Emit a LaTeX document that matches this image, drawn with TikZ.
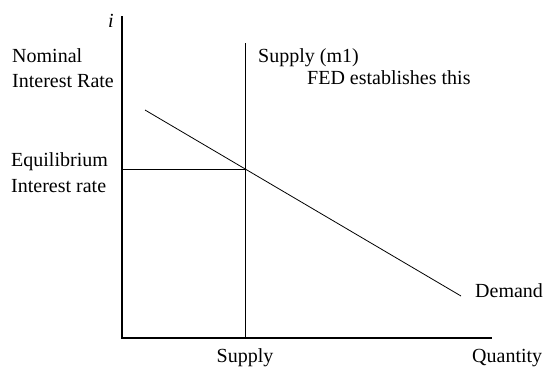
\documentclass[tikz,border=0pt]{standalone}
\usepackage{fontspec}
\setmainfont{Liberation Serif}
\usepackage{tikz}
\usetikzlibrary{positioning, calc}

\begin{document}
\begin{tikzpicture}[
        x=1pt, y=-1pt,
        axis/.style={line width=1.1pt},
        curve/.style={line width=0.8pt},
        lbl/.style={anchor=base west, inner sep=0pt, align=left,
                    font=\fontsize{20}{25.5}\selectfont}
    ]
        \useasboundingbox (0,0) rectangle (544,368);

        % Axes
        \coordinate (origin) at (122,338);
        \coordinate (ytop) at (122,16);
        \coordinate (xend) at (492,338);
        \draw[axis] (ytop) -- (origin) -- (xend);

        % Supply and demand
        \coordinate (stop) at (245,43);
        \coordinate (sbot) at (245,338);
        \coordinate (dstart) at (145,110);
        \coordinate (dend) at (461,296);
        \coordinate (eqrate) at (122,169.7);
        \coordinate (eq) at (245,169.7);
        \draw[curve] (stop) -- (sbot);
        \draw[curve] (dstart) -- (dend);
        \draw[curve] (eqrate) -- (eq);

        % Labels
        \node[lbl] (ilabel) at (108,27) {\textit{i}};
        \node[lbl] (nominal) at (12,87.5) {Nominal\\Interest Rate};
        \node[lbl] (equil) at (11,192) {Equilibrium\\Interest rate};
        \node[lbl] (supplym) at (258,62) {Supply (m1)};
        \node[lbl] (fed) at (307,84) {FED establishes this};
        \node[lbl] (demand) at (475,297) {Demand};
        \node[lbl, anchor=base] (supply) at (245,362) {Supply};
        \node[lbl] (quantity) at (472,362) {Quantity};
    \end{tikzpicture}
\end{document}
